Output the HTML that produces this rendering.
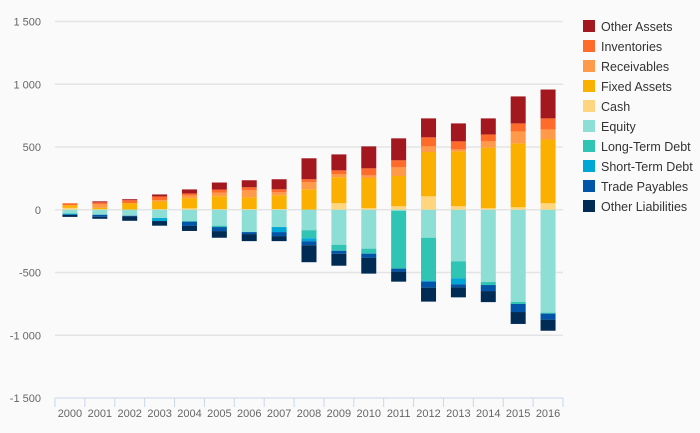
<!DOCTYPE html>
<html><head><meta charset="utf-8"><style>
html,body{margin:0;padding:0;background:#fafafa;}
svg{display:block;font-family:"Liberation Sans","DejaVu Sans",sans-serif;}
</style></head><body>
<svg id="chart" width="700" height="433" viewBox="0 0 700 433">
<rect width="700" height="433" fill="#fafafa"/>
<g id="grid"></g><g id="bars"></g><g id="axes"></g><g id="legend"></g>
</svg>
<script>
const years = ["2000","2001","2002","2003","2004","2005","2006","2007","2008","2009","2010","2011","2012","2013","2014","2015","2016"];
const seriesNames = ["Other Assets","Inventories","Receivables","Fixed Assets","Cash","Equity","Long-Term Debt","Short-Term Debt","Trade Payables","Other Liabilities"];
const seriesColors = ["#a3171f","#ff6b2b","#ff9a4a","#fbb000","#ffd580","#8ddfd5","#30c4b4","#00a6d6","#0055a8","#002b55"];
const cash = [15,4,1,5,11,5,6,6,0,52,12,28,107,28,12,20,52];
const fixedAssets = [21,13,51,61,82,103,93,109,163,207,241,241,353,437,483,509,508];
const receivables = [0,29,0,11,21,29,56,24,56,26,21,69,45,16,50,95,80];
const inventories = [16,13,24,29,16,24,24,24,24,29,56,56,72,64,55,64,88];
const otherAssets = [0,8,8,16,32,56,56,80,167,127,175,175,151,143,128,215,230];
const equity = [-28,-40,-48,-66,-90,-127,-178,-138,-163,-279,-310,-8,-223,-411,-576,-735,-820];
const longTermDebt = [-5,0,0,0,-5,-11,0,0,-64,-48,-40,-461,-342,-135,-24,-16,-8];
const shortTermDebt = [-5,0,0,-24,0,0,0,-40,-24,0,0,0,-8,-48,0,0,0];
const tradePayables = [-3,-16,-5,0,-34,-32,-16,-32,-32,-24,-32,-24,-48,-24,-48,-64,-48];
const otherLiabilities = [-16,-16,-35,-37,-40,-53,-56,-40,-135,-95,-127,-80,-111,-80,-88,-95,-88];
const yTicks = [1500,1000,500,0,-500,-1000,-1500];
const yTickLabels = ["1 500","1 000","500","0","-500","-1 000","-1 500"];

const NS="http://www.w3.org/2000/svg";
const L=55,R=563,T=21.5,B=398;
const yMin=-1500,yMax=1500;
function y(v){return B-(v-yMin)/(yMax-yMin)*(B-T);}
const step=(R-L)/years.length;
function xc(i){return L+step*(i+0.5);}
function mk(tag,attrs,parent){const e=document.createElementNS(NS,tag);for(const k in attrs)e.setAttribute(k,attrs[k]);parent.appendChild(e);return e;}
const grid=document.getElementById('grid'),axes=document.getElementById('axes'),barsG=document.getElementById('bars'),leg=document.getElementById('legend');
yTicks.forEach((t,i)=>{
  if(t!==yMin){const g=mk('line',{x1:L,x2:R,y1:y(t),y2:y(t),stroke:'#e4e4e4','stroke-width':1.5},grid);
  
  }
  const tx=mk('text',{x:41,y:y(t)+4,'text-anchor':'end','font-size':11,fill:'#666'},axes);
  tx.textContent=yTickLabels[i];
  
  
});
const ax=mk('line',{x1:L,x2:R,y1:B,y2:B,stroke:'#c8d6ec','stroke-width':1},axes);


for(let i=0;i<=years.length;i++){
  const tk=mk('line',{x1:L+step*i,x2:L+step*i,y1:B,y2:B+9,stroke:'#c8d6ec','stroke-width':1},axes);
  
  
}
years.forEach((yr,i)=>{
  const tx=mk('text',{x:xc(i),y:417,'text-anchor':'middle','font-size':11,fill:'#666'},axes);
  tx.textContent=yr;
  
  
});
const posSeries=[cash,fixedAssets,receivables,inventories,otherAssets];
const posIdx=[4,3,2,1,0];
const negSeries=[equity,longTermDebt,shortTermDebt,tradePayables,otherLiabilities];
const negIdx=[5,6,7,8,9];
const bw=15;
years.forEach((yr,i)=>{
  let acc=0;
  posSeries.forEach((s,k)=>{const v=s[i];if(!v)return;const r=mk('rect',{x:xc(i)-bw/2,y:y(acc+v),width:bw,height:y(acc)-y(acc+v),fill:seriesColors[posIdx[k]]},barsG);
    
    
    acc+=v;});
  acc=0;
  negSeries.forEach((s,k)=>{const v=s[i];if(!v)return;const r=mk('rect',{x:xc(i)-bw/2,y:y(acc),width:bw,height:y(acc+v)-y(acc),fill:seriesColors[negIdx[k]]},barsG);
    
    
    acc+=v;});
});
seriesNames.forEach((n,i)=>{
  const g=mk('g',{},leg);
  
  
  const yy=20+i*20;
  mk('rect',{x:583,y:yy,width:12,height:12,fill:seriesColors[i]},g);
  const t=mk('text',{x:601,y:yy+11,'font-size':12.5,fill:'#333'},g);
  t.textContent=n;
});
</script>
</body></html>
